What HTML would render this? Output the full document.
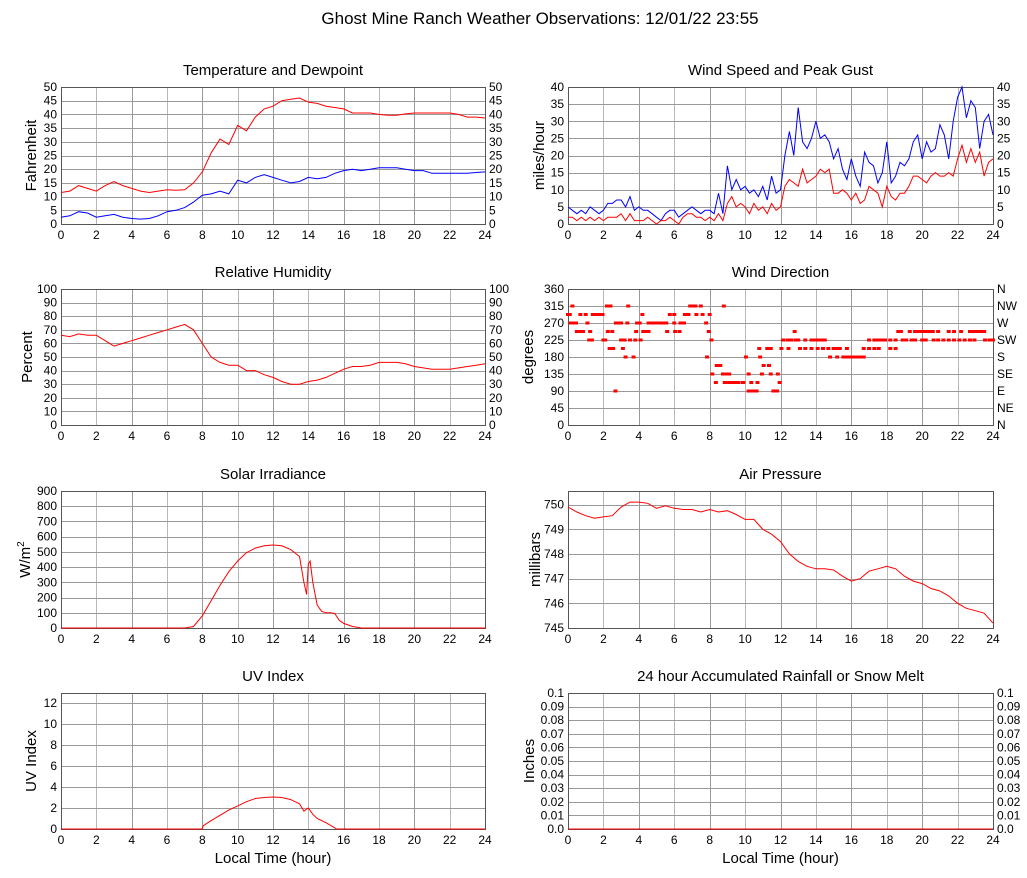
<!DOCTYPE html>
<html><head><meta charset="utf-8"><style>
body{margin:0;background:#fff;}
svg{display:block;font-family:"Liberation Sans",sans-serif;}
</style></head><body>
<svg id="chart" width="1027" height="878" viewBox="0 0 1027 878" xmlns="http://www.w3.org/2000/svg">
<text x="540" y="24" text-anchor="middle" font-size="17">Ghost Mine Ranch Weather Observations: 12/01/22 23:55</text>
</svg>
<script>
const tempF = [11.5,12,14,13,12,14,15.5,14,13,12,11.5,12,12.5,12.3,12.5,15,19,26,31,29,36,34,39,42,43,45,45.5,46,44.5,44,43,42.5,42,40.5,40.5,40.5,40,39.7,39.7,40.2,40.5,40.5,40.5,40.5,40.5,40,39,39,38.7];
const dewF = [2.5,3,4.5,4,2.5,3,3.5,2.5,2,1.8,2,3,4.5,5,6,8,10.5,11,12,11,16,15,17,18,17,16,15,15.5,17,16.5,17,18.5,19.5,20,19.5,20,20.5,20.5,20.5,20,19.5,19.5,18.5,18.5,18.5,18.5,18.5,18.8,19];
const gustMph = [5,4,3,4,3,5,4,3,4, 6,6,7,7,5,8,4,5, 4,4,3,2,1,3,4,4, 2,3,4,5,4,3,4,4, 3,9,3,17,10,13,10,11, 9,10,8,11,7,14,9,10, 20,27,20,34,24,22,25,30, 25,26,24,19,22,16,13,19, 14,11,21,18,17,12,15,24, 12,14,18,17,19,24,26,19, 24,21,22,29,26,19,30,37, 40,31,36,34,22,30,32,26];
const speedMph = [2,2,1,2,1,2,1,2,1, 2,2,2,3,1,3,1,1, 1,2,1,0,1,1,2,1, 0,2,3,3,2,2,1,2, 1,3,1,6,8,5,6,5, 3,6,4,5,3,6,4,5, 11,13,12,11,16,12,13,14, 16,15,16,9,9,10,9,7, 9,6,7,11,10,9,5,11, 8,7,9,9,11,14,14,13, 12,14,15,14,14,15,14,19, 23,18,22,18,21,14,18,19];
const rhPct = [66,65,67,66,66,62,58,60,62,64,66,68,70,72,74,70,60,50,46,44,44,40,40,37,35,32,30,30,32,33,35,38,41,43,43,44,46,46,46,45,43,42,41,41,41,42,43,44,45];
const dirHours = [0,0.1,0.25,0.7,1.0,1.4,1.6,1.8,1.95,2.2,2.4,3.4,4.2,5.75,6.0,6.6,6.8,6.9,7.0,7.2,7.25,7.5,7.6,8.0,8.8,
0.15,0.3,0.45,1.1,2.7,2.8,3.0,3.35,3.9,4.05,4.55,4.7,4.8,4.9,5.0,5.2,5.4,5.55,6.0,6.35,6.55,7.8,
0.5,0.65,0.85,2.25,2.5,3.85,4.25,4.4,4.55,5.6,6.05,6.3,7.95,12.8,18.65,18.8,19.3,19.6,19.8,20.0,20.2,20.4,20.6,20.9,21.5,21.8,22.2,22.7,22.9,23.1,23.3,23.5,
1.25,1.35,2.0,2.1,3.0,3.2,3.5,3.8,4.1,8.1,12.15,12.4,12.6,12.85,13.0,13.4,13.75,13.95,14.15,14.35,14.5,17.0,17.3,17.45,17.65,17.75,17.9,18.2,18.5,18.9,19.1,19.4,19.6,20.0,20.2,20.65,20.9,21.2,21.5,21.8,22.1,22.4,22.7,22.95,23.55,23.8,24,
1.2,2.35,3.1,10.8,11.25,11.45,12.05,12.45,13.1,13.4,13.75,14.1,14.4,14.7,15.0,15.2,15.35,15.75,16.7,17.0,17.3,17.55,18.2,18.5,
2.55,3.25,3.7,10.05,10.85,14.8,15.2,15.55,15.75,15.9,16.0,16.15,16.3,16.5,16.7,
7.85,8.4,8.6,11.05,11.35,
8.5,8.75,8.9,9.1,10.2,10.95,11.45,11.85,
8.15,8.35,8.85,9.0,9.1,9.25,9.4,9.6,9.85,10.35,10.7,11.95,
9.9,10.2,10.35,10.45,10.65,11.6,11.7,11.8,
2.68];
const dirValues = [292.5,292.5,315,292.5,292.5,292.5,292.5,292.5,292.5,315,315,315,292.5,292.5,292.5,292.5,292.5,315,315,315,292.5,315,292.5,292.5,315,
270,270,270,270,270,270,270,270,270,270,270,270,270,270,270,270,270,270,270,270,270,270,
247.5,247.5,247.5,247.5,247.5,247.5,247.5,247.5,247.5,247.5,247.5,247.5,247.5,247.5,247.5,247.5,247.5,247.5,247.5,247.5,247.5,247.5,247.5,247.5,247.5,247.5,247.5,247.5,247.5,247.5,247.5,247.5,247.5,
225,225,225,225,225,225,225,225,225,225,225,225,225,225,225,225,225,225,225,225,225,225,225,225,225,225,225,225,225,225,225,225,225,225,225,225,225,225,225,225,225,225,225,225,225,225,225,
202.5,202.5,202.5,202.5,202.5,202.5,202.5,202.5,202.5,202.5,202.5,202.5,202.5,202.5,202.5,202.5,202.5,202.5,202.5,202.5,202.5,202.5,202.5,202.5,
180,180,180,180,180,180,180,180,180,180,180,180,180,180,180,
157.5,157.5,157.5,157.5,157.5,
135,135,135,135,135,135,135,135,
112.5,112.5,112.5,112.5,112.5,112.5,112.5,112.5,112.5,112.5,112.5,112.5,
90,90,90,90,90,90,90,90,
67.5];
const solarHours = [0,7,7.5,8,8.5,9,9.5,10,10.5,11,11.5,12,12.5,13,13.5,13.75,13.9,14,14.1,14.25,14.5,14.75,15,15.25,15.5,15.75,16,16.5,17,24];
const solarWm2 = [0,0,10,80,180,280,370,440,495,525,540,545,540,515,470,300,220,420,440,300,150,110,100,100,95,50,30,10,0,0];
const uvHours = [0,8,8.05,8.5,9,9.5,10,10.5,11,11.5,12,12.5,13,13.5,13.75,14,14.25,14.5,15,15.5,15.6,24];
const uvIndex = [0,0,0.3,0.8,1.3,1.8,2.2,2.6,2.9,3.0,3.05,3.0,2.8,2.4,1.7,2.0,1.4,1.0,0.6,0.1,0,0];
const pressureMb = [749.9,749.7,749.55,749.45,749.5,749.55,749.9,750.1,750.1,750.05,749.85,749.95,749.85,749.8,749.8,749.7,749.8,749.7,749.75,749.6,749.4,749.4,749.0,748.8,748.5,748.0,747.7,747.5,747.4,747.4,747.35,747.1,746.9,747.0,747.3,747.4,747.5,747.4,747.1,746.9,746.8,746.6,746.5,746.3,746.0,745.8,745.7,745.6,745.2];
const rainIn = [0,0];
const rainHours = [0,24];
const hourTicks = [0,2,4,6,8,10,12,14,16,18,20,22,24];
const compassLabels = ['N','NE','E','SE','S','SW','W','NW','N'];

const NS='http://www.w3.org/2000/svg';
const svg=document.getElementById('chart');
function el(tag,attrs,parent){const e=document.createElementNS(NS,tag);for(const k in attrs)e.setAttribute(k,attrs[k]);(parent||svg).appendChild(e);return e;}

function panel(opt){
  const g=el('g',{});
  
  
  const {x0,x1,y0,y1,ymin,ymax}=opt;
  const sx=h=>x0+(h/24)*(x1-x0);
  const sy=v=>y1-(v-ymin)/(ymax-ymin)*(y1-y0);
  const t=el('text',{x:(x0+x1)/2,y:y0-12,'text-anchor':'middle','font-size':15},g);
  t.textContent=opt.title;
  
  
  el('rect',{x:x0,y:y0,width:x1-x0,height:y1-y0,fill:'#fff'},g);
  hourTicks.forEach((h,i)=>{
    const x=Math.round(sx(h))+0.5;
    el('line',{x1:x,x2:x,y1:y0,y2:y1,stroke:i%2?'#b8b8b8':'#999','stroke-width':1},g);
    const lt=el('text',{x:sx(h),y:y1+15,'text-anchor':'middle','font-size':12},g);
    lt.textContent=h;
    
    
  });
  opt.yticks.forEach((v,i)=>{
    const y=Math.round(sy(v))+0.5;
    el('line',{x1:x0,x2:x1,y1:y,y2:y,stroke:'#999','stroke-width':1},g);
    const lt=el('text',{x:x0-4,y:sy(v)+4,'text-anchor':'end','font-size':12},g);
    lt.textContent=opt.ylab?opt.ylab[i]:v;
    
    
    if(opt.right){
      const rt=el('text',{x:x1+4,y:sy(v)+4,'text-anchor':'start','font-size':12},g);
      rt.textContent=opt.rlab?opt.rlab[i]:(opt.ylab?opt.ylab[i]:v);
      
      
    }
  });
  el('rect',{x:x0+0.5,y:y0+0.5,width:x1-x0,height:y1-y0,fill:'none',stroke:'#555','stroke-width':1},g);
  const yt=el('text',{x:0,y:0,'text-anchor':'middle','font-size':15,transform:`translate(${opt.ytx},${(y0+y1)/2}) rotate(-90)`},g);
  yt.innerHTML=opt.ytitle;
  
  
  if(opt.xtitle){
    const xt=el('text',{x:(x0+x1)/2,y:y1+34,'text-anchor':'middle','font-size':15},g);
    xt.textContent='Local Time (hour)';
    
    
  }
  return {g,sx,sy};
}
function line(p,hours,vals,color,name){
  const d=vals.map((v,i)=>(i?'L':'M')+p.sx(hours[i]).toFixed(1)+','+p.sy(v).toFixed(1)).join('');
  const path=el('path',{d,fill:'none',stroke:color,'stroke-width':1},p.g);
  
  
}
const hh=tempF.map((_,i)=>i*0.5);
const qh=gustMph.map((_,i)=>i*0.25);

const L0=61,L1=485,R0=568,R1=993;
let p=panel({name:'temperature',title:'Temperature and Dewpoint',x0:L0,x1:L1,y0:87,y1:224,ymin:0,ymax:50,yticks:[0,5,10,15,20,25,30,35,40,45,50],right:true,ytitle:'Fahrenheit',ytx:36});
line(p,hh,tempF,'#ff0000','temperature-line');
line(p,hh,dewF,'#0000ff','dewpoint-line');

p=panel({name:'wind-speed',title:'Wind Speed and Peak Gust',x0:R0,x1:R1,y0:87,y1:224,ymin:0,ymax:40,yticks:[0,5,10,15,20,25,30,35,40],right:true,ytitle:'miles/hour',ytx:544});
line(p,qh,gustMph,'#0000ff','gust-line');
line(p,qh,speedMph,'#ff0000','speed-line');

p=panel({name:'humidity',title:'Relative Humidity',x0:L0,x1:L1,y0:289,y1:425,ymin:0,ymax:100,yticks:[0,10,20,30,40,50,60,70,80,90,100],right:true,ytitle:'Percent',ytx:32});
line(p,hh,rhPct,'#ff0000','humidity-line');

p=panel({name:'wind-direction',title:'Wind Direction',x0:R0,x1:R1,y0:289,y1:425,ymin:0,ymax:360,yticks:[0,45,90,135,180,225,270,315,360],right:true,rlab:compassLabels,ytitle:'degrees',ytx:533});
dirHours.forEach((h,i)=>{
  const r=el('rect',{x:p.sx(h)-2,y:p.sy(dirValues[i])-1.5,width:4,height:3,fill:'#ff0000'},p.g);
  
  
});

p=panel({name:'solar',title:'Solar Irradiance',x0:L0,x1:L1,y0:491,y1:628,ymin:0,ymax:900,yticks:[0,100,200,300,400,500,600,700,800,900],right:false,ytitle:'W/m<tspan font-size="10" dy="-6">2</tspan>',ytx:30});
line(p,solarHours,solarWm2,'#ff0000','solar-line');

p=panel({name:'pressure',title:'Air Pressure',x0:R0,x1:R1,y0:491,y1:628,ymin:745,ymax:750.55,yticks:[745,746,747,748,749,750],right:false,ytitle:'millibars',ytx:540});
line(p,hh,pressureMb,'#ff0000','pressure-line');

p=panel({name:'uv',title:'UV Index',x0:L0,x1:L1,y0:693,y1:829,ymin:0,ymax:12.95,yticks:[0,2,4,6,8,10,12],right:false,ytitle:'UV Index',ytx:36,xtitle:true});
line(p,uvHours,uvIndex,'#ff0000','uv-line');

p=panel({name:'rainfall',title:'24 hour Accumulated Rainfall or Snow Melt',x0:R0,x1:R1,y0:693,y1:829,ymin:0,ymax:0.1,yticks:[0,0.01,0.02,0.03,0.04,0.05,0.06,0.07,0.08,0.09,0.1],ylab:['0.0','0.01','0.02','0.03','0.04','0.05','0.06','0.07','0.08','0.09','0.1'],right:true,ytitle:'Inches',ytx:534,xtitle:true});
line(p,rainHours,rainIn,'#ff0000','rain-line');
</script>
</body></html>
